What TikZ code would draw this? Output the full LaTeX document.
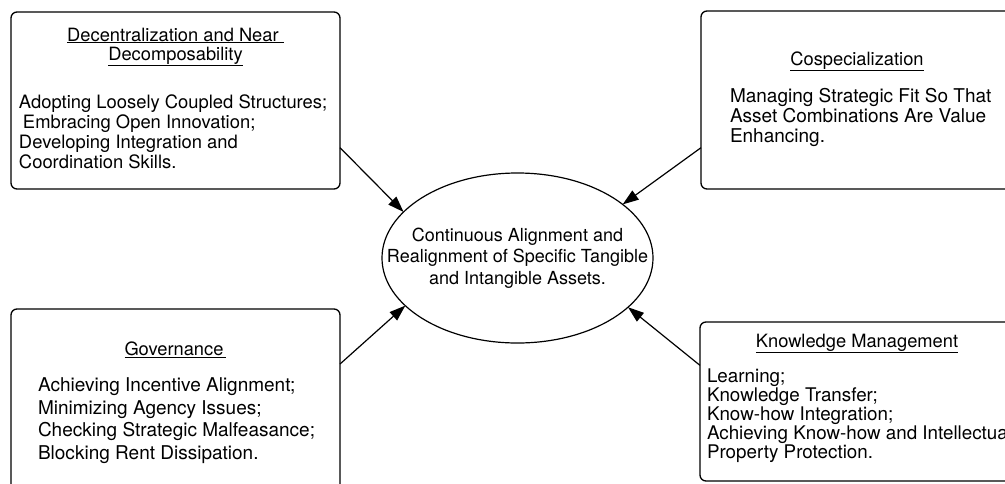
\documentclass[tikz,border=0pt]{standalone}
\usepackage{fontspec}
\setmainfont{TeX Gyre Heros}
\usetikzlibrary{arrows.meta,shapes.geometric}

\begin{document}
\begin{tikzpicture}[y=1pt, x=1pt, yscale=-1, inner sep=0pt, outer sep=0pt,
    panel/.style={draw=black, line width=1.3pt, rounded corners=6pt},
    hub/.style={draw=black, line width=1.2pt, ellipse},
    heading/.style={anchor=base, align=center, font=\fontsize{18.3}{19}\selectfont},
    items/.style={anchor=base west, align=left},
    link/.style={draw=black, line width=1.2pt, -{Triangle[length=16pt,width=11pt]}}]
\useasboundingbox (0,0) rectangle (1005,483);
  % four panels and the hub
  \node[panel, minimum width=329pt, minimum height=177pt] (decentral) at (175.5,100.5) {};
  \node[panel, minimum width=312pt, minimum height=178pt] (cospecial) at (857,100) {};
  \node[panel, minimum width=329pt, minimum height=186pt] (governance) at (175.5,402) {};
  \node[panel, minimum width=313pt, minimum height=159pt] (knowledge) at (856.5,401.5) {};
  \node[hub, minimum width=271pt, minimum height=170pt] (assets) at (517.5,258) {};
  % headings (placed by the baseline of their last line)
  \node[heading] (decentral head) at (175.5,60) {\underline{Decentralization and Near\ }\\\underline{Decomposability}};
  \node[heading] (cospecial head) at (857,65) {\underline{Cospecialization}};
  \node[heading] (governance head) at (175.5,355) {\underline{Governance\,}};
  \node[heading] (knowledge head) at (857,347) {\underline{Knowledge Management}};
  % items
  \node[items, font=\fontsize{18.4}{20}\selectfont] (decentral text) at (19,168)
    {Adopting Loosely Coupled Structures;\\\hspace{4pt}Embracing Open Innovation;\\Developing Integration and\\Coordination Skills.};
  \node[items, font=\fontsize{19}{20}\selectfont] (cospecial text) at (730,142)
    {Managing Strategic Fit So That\\Asset Combinations Are Value\\Enhancing.};
  \node[items, font=\fontsize{19}{22.4}\selectfont] (governance text) at (38,459)
    {Achieving Incentive Alignment;\\Minimizing Agency Issues;\\Checking Strategic Malfeasance;\\Blocking Rent Dissipation.};
  \node[items, font=\fontsize{18.8}{19}\selectfont] (knowledge text) at (707,458)
    {Learning;\\Knowledge Transfer;\\Know-how Integration;\\Achieving Know-how and Intellectual\\Property Protection.};
  \node[align=center, font=\fontsize{18}{21.5}\selectfont] (assets text) at (assets.center)
    {Continuous Alignment and\\Realignment of Specific Tangible\\and Intangible Assets.};
  % arrows into the hub
  \draw[link] (decentral.-16.7) -- (assets.158);
  \draw[link] (cospecial.197.7) -- (assets.27);
  \draw[link] (governance.13.7) -- (assets.203);
  \draw[link] (knowledge.167.5) -- (assets.-24);
\end{tikzpicture}
\end{document}
